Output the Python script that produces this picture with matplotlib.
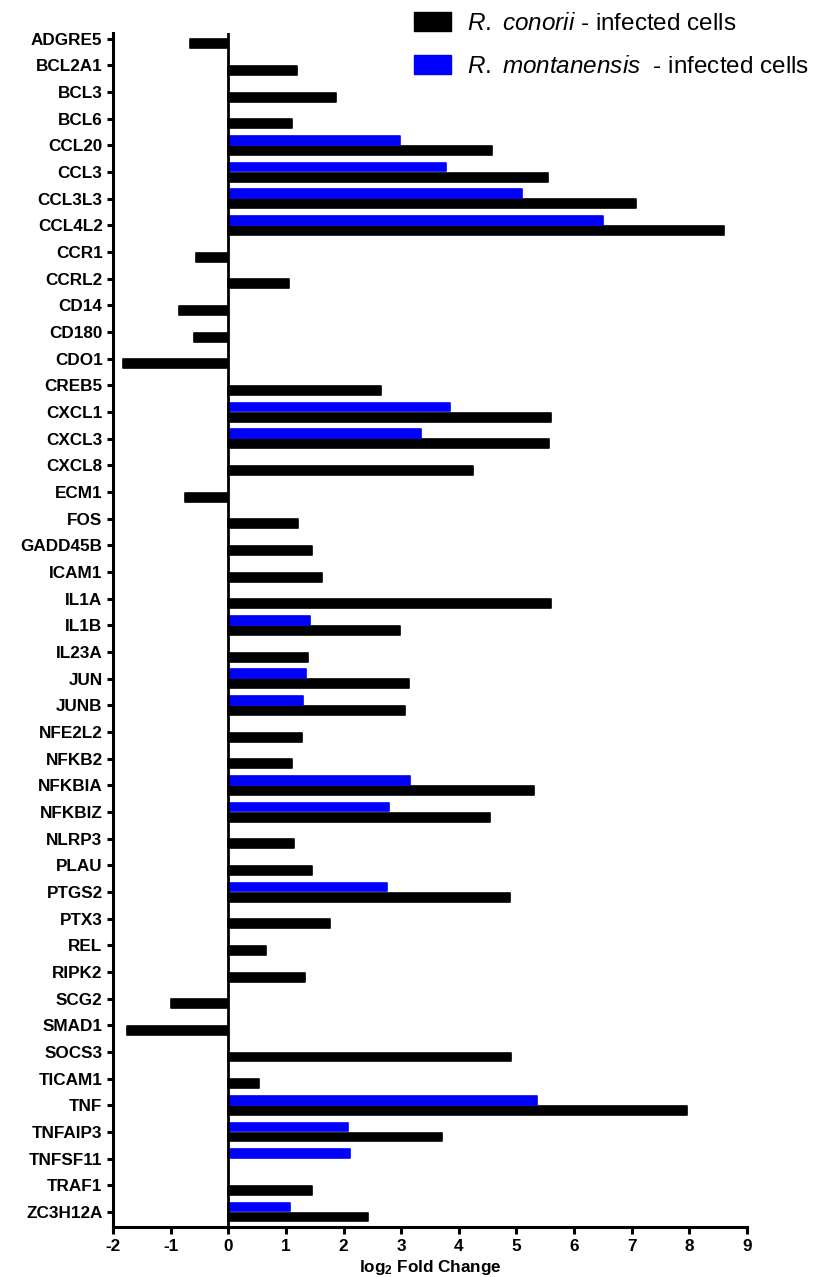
import numpy as np
import matplotlib
matplotlib.use("Agg")
import matplotlib.pyplot as plt
from matplotlib.patches import Rectangle

plt.rcParams["font.family"] = ["Liberation Sans", "DejaVu Sans"]
plt.rcParams["mathtext.fontset"] = "custom"
plt.rcParams["mathtext.rm"] = "Liberation Sans"
plt.rcParams["mathtext.it"] = "Liberation Sans:italic"
plt.rcParams["mathtext.bf"] = "Liberation Sans:bold"

#Genes, top to bottom
genes = ["ADGRE5", "BCL2A1", "BCL3", "BCL6", "CCL20", "CCL3", "CCL3L3", "CCL4L2",
         "CCR1", "CCRL2", "CD14", "CD180", "CDO1", "CREB5", "CXCL1", "CXCL3",
         "CXCL8", "ECM1", "FOS", "GADD45B", "ICAM1", "IL1A", "IL1B", "IL23A",
         "JUN", "JUNB", "NFE2L2", "NFKB2", "NFKBIA", "NFKBIZ", "NLRP3", "PLAU",
         "PTGS2", "PTX3", "REL", "RIPK2", "SCG2", "SMAD1", "SOCS3", "TICAM1",
         "TNF", "TNFAIP3", "TNFSF11", "TRAF1", "ZC3H12A"]

nan = np.nan
#log2 fold change, R. conorii infected cells
conorii = [-0.67, 1.2, 1.87, 1.1, 4.58, 5.55, 7.07, 8.6,
           -0.56, 1.05, -0.86, -0.59, -1.82, 2.65, 5.6, 5.56,
           4.25, -0.75, 1.21, 1.46, 1.63, 5.6, 2.98, 1.38,
           3.14, 3.06, 1.28, 1.1, 5.3, 4.54, 1.14, 1.46,
           4.88, 1.76, 0.66, 1.33, -0.99, -1.76, 4.9, 0.53,
           7.95, 3.71, nan, 1.45, 2.42]
#log2 fold change, R. montanensis infected cells
montanensis = [nan, nan, nan, nan, 2.98, 3.78, 5.09, 6.5,
               nan, nan, nan, nan, nan, nan, 3.85, 3.35,
               nan, nan, nan, nan, nan, nan, 1.42, nan,
               1.35, 1.3, nan, nan, 3.16, 2.79, nan, nan,
               2.75, nan, nan, nan, nan, nan, nan, nan,
               5.35, 2.08, 2.12, nan, 1.07]

xticks = list(range(-2, 10))
series_names = [r"$\it{R.}$ $\it{conorii}$ - infected cells",
                r"$\it{R.}$ $\it{montanensis}$  - infected cells"]
series_colors = ["black", "#0000FF"]

fig = plt.figure(figsize=(8.21, 12.77), dpi=100)
ax = fig.add_axes([0.1376, 0.0392, 0.7723, 0.935])

y = np.arange(len(genes))
bar_h = 0.33
ax.barh(y + 0.19, conorii, height=bar_h, color=series_colors[0], edgecolor=series_colors[0],
        linewidth=1.2, joinstyle="round", zorder=2)
ax.barh(y - 0.19, montanensis, height=bar_h, color=series_colors[1], edgecolor=series_colors[1],
        linewidth=1.2, joinstyle="round", zorder=2)

#zero line
ax.axvline(0, color="black", linewidth=2.0, zorder=3)

ax.set_xlim(-2, 9)
ax.set_ylim(44.56, -0.22)
ax.set_yticks(y)
ax.set_yticklabels(genes, fontsize=12.3, fontweight="bold")
ax.set_xticks(xticks)
ax.set_xticklabels([str(t) for t in xticks], fontsize=12.3, fontweight="bold")
ax.set_xlabel(r"log$_\mathbf{2}$ Fold Change", fontsize=12.3, fontweight="bold", labelpad=2.5)

for side in ["top", "right"]:
    ax.spines[side].set_visible(False)
for side in ["left", "bottom"]:
    ax.spines[side].set_linewidth(2.2)
ax.tick_params(axis="y", length=4.5, width=2.2, pad=3)
ax.tick_params(axis="x", length=5, width=2.2, pad=4)

#Legend drawn by hand
box_tops = [12, 55]
for top, name, col in zip(box_tops, series_names, series_colors):
    y0 = 1 - (top + 19) / 1277
    fig.patches.append(Rectangle((414 / 821, y0), 37 / 821, 19 / 1277,
                                 transform=fig.transFigure, facecolor=col,
                                 edgecolor=col, linewidth=1, joinstyle="round"))
    fig.text(467 / 821, 1 - (top + 12) / 1277, name, fontsize=17.5,
             ha="left", va="center")

plt.savefig("out.png", dpi=100)
